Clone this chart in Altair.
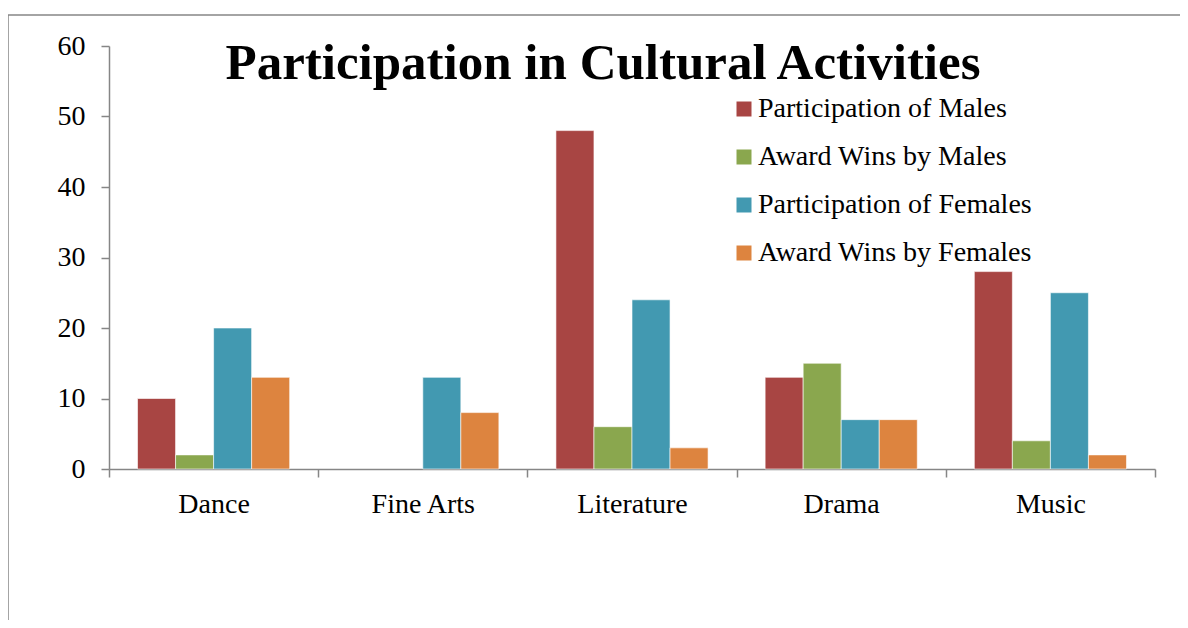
import altair as alt
import pandas as pd

categories = ["Dance", "Fine Arts", "Literature", "Drama", "Music"]
series = ["Participation of Males", "Award Wins by Males",
          "Participation of Females", "Award Wins by Females"]
part_males = [10, 0, 48, 13, 28]
award_males = [2, 0, 6, 15, 4]
part_females = [20, 13, 24, 7, 25]
award_females = [13, 8, 3, 7, 2]
colors = ["#A84543", "#8AA74E", "#4299B1", "#DD843F"]
y_ticks = [0, 10, 20, 30, 40, 50, 60]
title_text = "Participation in Cultural Activities"

rows = []
for s, vals in zip(series, [part_males, award_males, part_females, award_females]):
    for c, v in zip(categories, vals):
        rows.append({"Category": c, "Series": s, "Value": v})
df = pd.DataFrame(rows)

FONT = "Liberation Serif"
AX = "#868686"

bars = alt.Chart(df).transform_filter("datum.Value > 0").mark_bar(
    stroke="white", strokeWidth=0.6).encode(
    x=alt.X("Category:N", sort=categories, title=None,
            scale=alt.Scale(domain=categories, paddingInner=0, paddingOuter=0),
            axis=alt.Axis(labelAngle=0, tickBand="extent", domainColor=AX,
                          tickColor=AX, domainWidth=1.5, tickWidth=1.5,
                          tickSize=8, labelFont=FONT, labelFontSize=28,
                          labelColor="black", labelPadding=13)),
    xOffset=alt.XOffset("Series:N", sort=series,
                        scale=alt.Scale(domain=series, paddingInner=0, paddingOuter=0.75)),
    y=alt.Y("Value:Q", title=None,
            scale=alt.Scale(domain=[0, 60], nice=False),
            axis=alt.Axis(values=y_ticks, grid=False, domainColor=AX,
                          tickColor=AX, domainWidth=1.5, tickWidth=1.5,
                          tickSize=8, labelFont=FONT, labelFontSize=28,
                          labelColor="black", labelPadding=16)),
    color=alt.Color("Series:N", sort=series,
                    scale=alt.Scale(domain=series, range=colors),
                    legend=alt.Legend(title=None, orient="none",
                                      legendX=621, legendY=49,
                                      symbolType="square", symbolSize=225,
                                      symbolStrokeWidth=0,
                                      labelFont=FONT, labelFontSize=28,
                                      labelColor="black", labelOffset=0,
                                      rowPadding=20, labelLimit=400)),
)

frame_df = pd.DataFrame({"k": [0]})
top_line = alt.Chart(frame_df).mark_rule(color=AX, strokeWidth=1.5).encode(
    x=alt.value(-101), x2=alt.value(1090), y=alt.value(-31))
left_line = alt.Chart(frame_df).mark_rule(color=AX, strokeWidth=1.5).encode(
    x=alt.value(-101), y=alt.value(-31), y2=alt.value(600))

title = alt.Chart(pd.DataFrame({"t": [title_text]})).mark_text(
    font=FONT, fontSize=51, fontWeight="bold", color="black",
    align="center", baseline="alphabetic").encode(
    text="t:N", x=alt.value(494), y=alt.value(33))

chart = alt.layer(top_line, left_line, bars, title).properties(
    width=1046, height=423,
    autosize=alt.AutoSizeParams(type="none"),
    padding={"left": 101, "top": 38, "right": 25, "bottom": 151},
).configure_view(stroke=None)

chart.save("out.html", embed_options={"renderer": "svg", "actions": False})
